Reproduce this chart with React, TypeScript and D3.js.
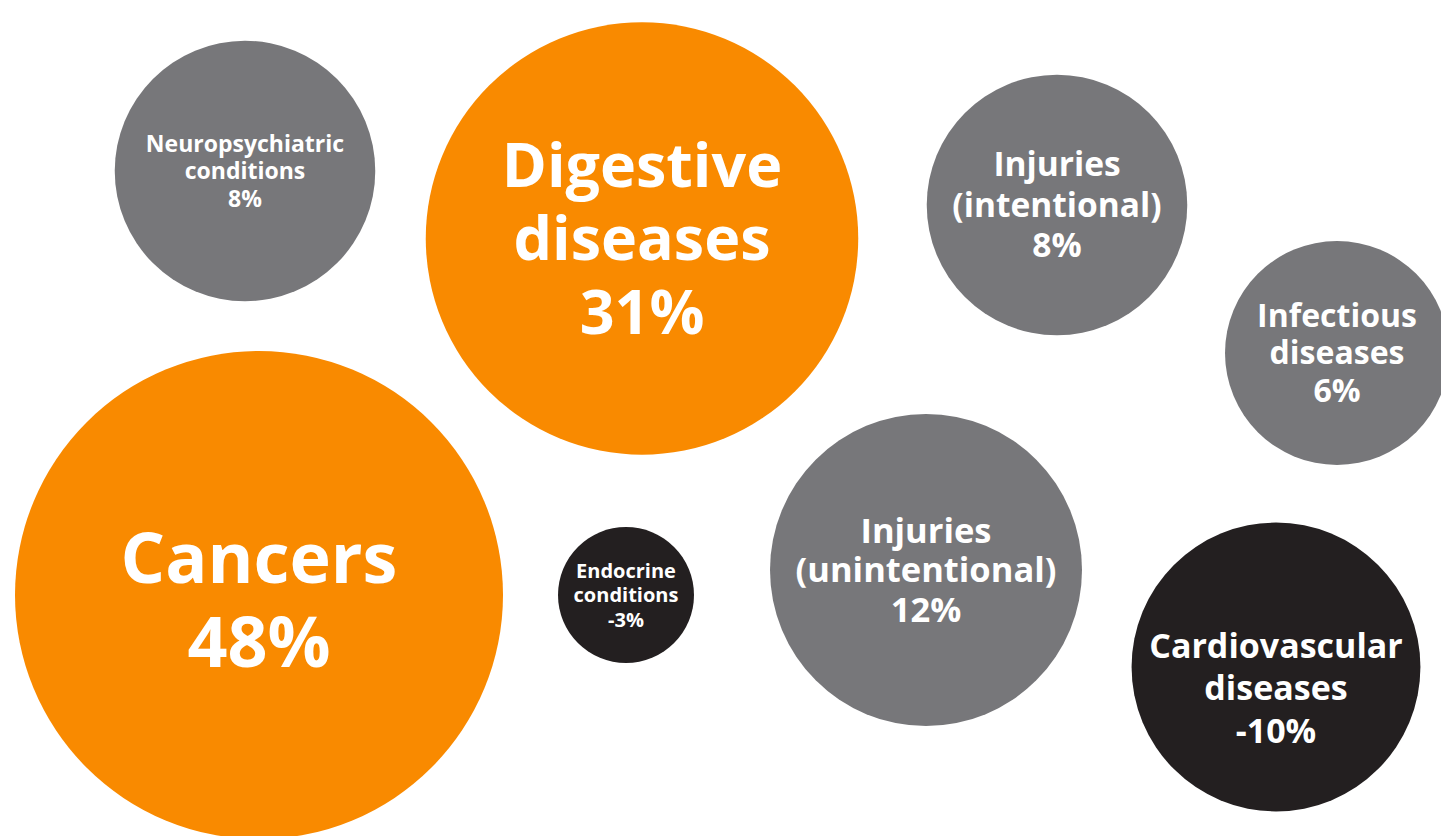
import React from "react";
import * as d3 from "d3";

// ---- Data ----
const categories = [
  "Neuropsychiatric conditions",
  "Digestive diseases",
  "Injuries (intentional)",
  "Infectious diseases",
  "Cancers",
  "Endocrine conditions",
  "Injuries (unintentional)",
  "Cardiovascular diseases",
];
const labelLines = [
  ["Neuropsychiatric", "conditions"],
  ["Digestive", "diseases"],
  ["Injuries", "(intentional)"],
  ["Infectious", "diseases"],
  ["Cancers"],
  ["Endocrine", "conditions"],
  ["Injuries", "(unintentional)"],
  ["Cardiovascular", "diseases"],
];
const values = [8, 31, 8, 6, 48, -3, 12, -10];
const groups = ["mid", "high", "mid", "mid", "high", "neg", "mid", "neg"];

// ---- Layout (bubble placement on the 1441x836 canvas) ----
const centerX = [245, 642, 1057, 1337, 259, 626, 926, 1276];
const centerY = [171, 238.5, 205, 353, 595, 595, 570, 667];
const fontSizes = [23, 61, 33.5, 32, 70, 20, 34.5, 34];
const lineGaps = [27.5, 73.5, 40.5, 37.5, 84, 24.5, 39.5, 42.5];
const textShift = [0, 0, 0, 0, 5, 0, 0, 21];

const WIDTH = 1441;
const HEIGHT = 836;

const color = d3
  .scaleOrdinal<string, string>()
  .domain(["high", "mid", "neg"])
  .range(["#F98A00", "#77777A", "#231F20"]);

const radius = d3
  .scaleLog()
  .domain([3, 48])
  .range([68, 244]);

const fmt = (v: number) => `${v}%`;

export default function App() {
  const nodes = categories.map((name, i) => {
    const lines = [...labelLines[i], fmt(values[i])];
    const fs = fontSizes[i];
    const lh = lineGaps[i];
    const capH = fs * 0.714;
    const block = capH + (lines.length - 1) * lh;
    const firstBaseline = centerY[i] + textShift[i] - block / 2 + capH;
    return {
      name,
      lines,
      fs,
      lh,
      firstBaseline,
      cx: centerX[i],
      cy: centerY[i],
      r: radius(Math.abs(values[i])),
      fill: color(groups[i]),
    };
  });

  return (
    <svg
      width={WIDTH}
      height={HEIGHT}
      style={{ position: "absolute", left: 0, top: 0, display: "block" }}
    >
      <rect x={0} y={0} width={WIDTH} height={HEIGHT} fill="#ffffff" />
      {nodes.map((n) => (
        <g key={n.name}>
          <circle cx={n.cx} cy={n.cy} r={n.r} fill={n.fill} />
          <text
            textAnchor="middle"
            fill="#ffffff"
            fontFamily="'Open Sans', 'Noto Sans', sans-serif"
            fontWeight={700}
            fontSize={n.fs}
          >
            {n.lines.map((line, j) => (
              <tspan key={j} x={n.cx} y={n.firstBaseline + j * n.lh}>
                {line}
              </tspan>
            ))}
          </text>
        </g>
      ))}
    </svg>
  );
}
